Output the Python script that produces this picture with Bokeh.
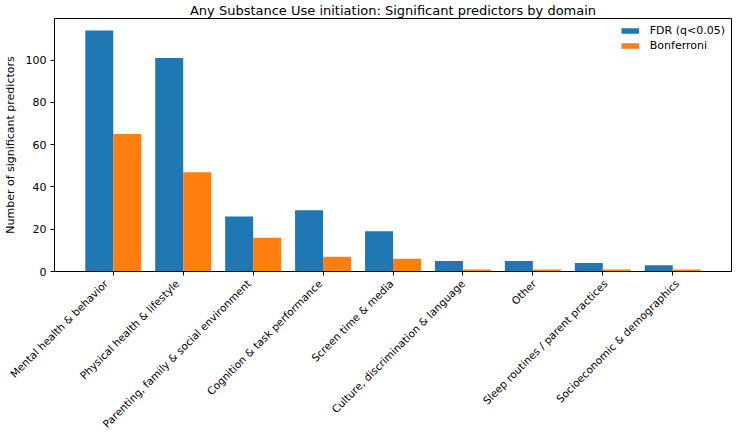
import math
from bokeh.plotting import figure
from bokeh.models import FixedTicker, Range1d, ColumnDataSource
from bokeh.layouts import column
from bokeh.core.properties import value
from bokeh.embed import file_html
from bokeh.resources import INLINE

# ---- data ----
domains = [
    "Mental health & behavior",
    "Physical health & lifestyle",
    "Parenting, family & social environment",
    "Cognition & task performance",
    "Screen time & media",
    "Culture, discrimination & language",
    "Other",
    "Sleep routines / parent practices",
    "Socioeconomic & demographics",
]
fdr = [114, 101, 26, 29, 19, 5, 5, 4, 3]
bonferroni = [65, 47, 16, 7, 6, 1, 1, 1, 1]
series_names = ["FDR (q<0.05)", "Bonferroni"]
series_colors = ["#1f77b4", "#ff7f0e"]
y_ticks = [0, 20, 40, 60, 80, 100]
title_text = "Any Substance Use initiation: Significant predictors by domain"
y_label = "Number of significant predictors"

FONT = "DejaVu Sans"
TICK_FS = "11px"
CAT_FS = "10.5px"
bar_w = 0.4
idx = list(range(len(domains)))

# ---- layout constants ----
W = 734
H_TOTAL = 432
H1 = 276               # main chart
H2 = H_TOTAL - H1      # strip holding rotated category labels
B_LEFT, B_RIGHT, B_BOTTOM = 40, 3, 5
LABEL_DROP = 10        # anchor of rotated label below the strip top (px, with B_BOTTOM)
LABEL_DX = 5.5         # horizontal nudge of rotated label (px)

src = ColumnDataSource(dict(
    x_fdr=[i - bar_w / 2 for i in idx],
    x_bon=[i + bar_w / 2 for i in idx],
    fdr=fdr,
    bon=bonferroni,
))

pad = (len(domains) - 1 + bar_w * 2) * 0.05
x0, x1 = -bar_w - pad, len(domains) - 1 + bar_w + pad

p = figure(
    width=W, height=H1,
    output_backend="svg", toolbar_location=None,
    x_range=Range1d(x0, x1),
    y_range=Range1d(0, max(fdr) * 1.05),
    min_border_left=B_LEFT, min_border_right=B_RIGHT, min_border_top=2,
    min_border_bottom=B_BOTTOM,
)
p.frame_align = False

p.title.text = title_text
p.title.align = "center"
p.title.text_font = FONT
p.title.text_font_size = "13px"
p.title.text_font_style = "normal"
p.title.text_color = "#000000"
p.title.standoff = 1

p.vbar(x="x_fdr", top="fdr", width=bar_w, bottom=0, source=src,
       fill_color=series_colors[0], line_color=None, legend_label=series_names[0])
p.vbar(x="x_bon", top="bon", width=bar_w, bottom=0, source=src,
       fill_color=series_colors[1], line_color=None, legend_label=series_names[1])

p.xgrid.visible = False
p.ygrid.visible = False
p.outline_line_color = "#000000"
p.outline_line_width = 1

for ax in (p.xaxis[0], p.yaxis[0]):
    ax.axis_line_color = "#000000"
    ax.major_tick_line_color = "#000000"
    ax.major_tick_out = 4
    ax.major_tick_in = 0
    ax.minor_tick_line_color = None
    ax.major_label_text_font = FONT
    ax.major_label_text_font_size = TICK_FS
    ax.major_label_text_color = "#000000"

# x axis: tick marks only; category names drawn in the strip below
p.xaxis.ticker = FixedTicker(ticks=idx)
p.xaxis.major_label_overrides = {i: "" for i in idx}
p.xaxis.major_label_text_font_size = "0px"
p.xaxis.major_label_standoff = 0

p.yaxis.ticker = FixedTicker(ticks=y_ticks)
p.yaxis.axis_label = y_label
p.yaxis.axis_label_text_font = FONT
p.yaxis.axis_label_text_font_size = TICK_FS
p.yaxis.axis_label_text_font_style = "normal"
p.yaxis.axis_label_text_color = "#000000"
p.yaxis.axis_label_standoff = 6
p.yaxis.major_label_standoff = 4

lg = p.legend[0]
lg.location = "top_right"
lg.border_line_color = None
lg.background_fill_alpha = 0.8
lg.label_text_font = FONT
lg.label_text_font_size = TICK_FS
lg.label_text_color = "#000000"
lg.glyph_width = 22
lg.glyph_height = 7
lg.label_height = 12
lg.spacing = 2
lg.padding = 4
lg.margin = 6
lg.label_standoff = 9

# ---- label strip, same x mapping as the main frame ----
frame_w = W - B_LEFT - B_RIGHT
per_px = (x1 - x0) / frame_w
q = figure(
    width=W, height=H2,
    output_backend="svg", toolbar_location=None,
    x_range=Range1d(x0 - B_LEFT * per_px, x1 + B_RIGHT * per_px),
    y_range=Range1d(-H2, 0),
    min_border=0, min_border_left=0, min_border_right=0,
    min_border_top=0, min_border_bottom=0,
)
q.frame_align = False
q.axis.visible = False
q.grid.visible = False
q.outline_line_color = None

lab_src = ColumnDataSource(dict(
    x=idx,
    y=[-(LABEL_DROP - B_BOTTOM)] * len(idx),
    text=domains,
))
q.text(x="x", y="y", text="text", source=lab_src,
       angle=math.pi / 4, text_align="right", text_baseline="middle",
       x_offset=LABEL_DX,
       text_font=value(FONT), text_font_size=value(CAT_FS), text_color="#000000")

layout = column(p, q, spacing=0)
open("out.html", "w").write(file_html(layout, INLINE))
